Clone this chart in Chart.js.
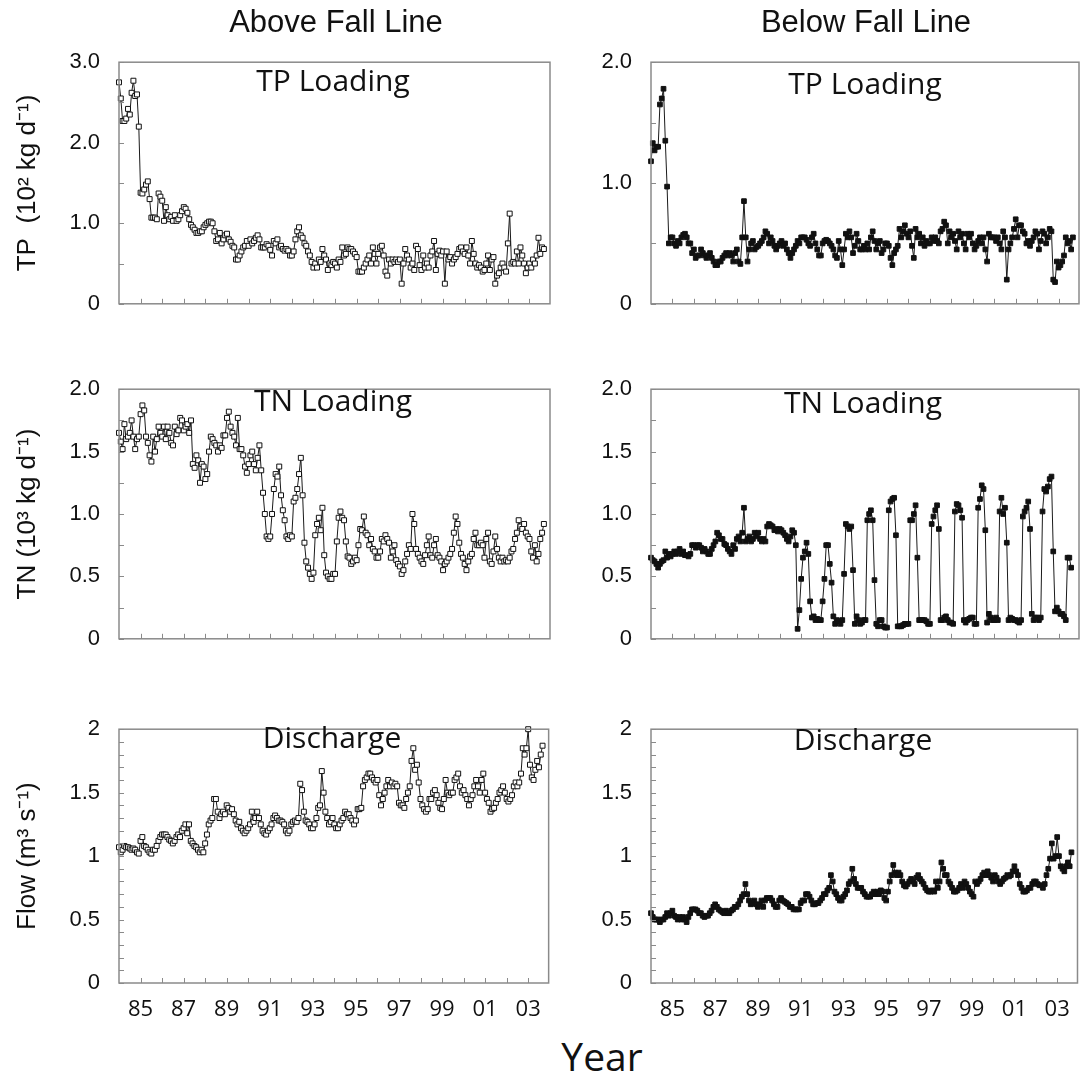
<!DOCTYPE html>
<html>
<head>
<meta charset="utf-8">
<script src="https://cdn.jsdelivr.net/npm/chart.js@4.4.0/dist/chart.umd.min.js"></script>
<style>
body{margin:0;background:#fff;}
#page{position:relative;width:1083px;height:1080px;overflow:hidden;background:#fff;}
#page canvas{position:absolute;}
.lbl{position:absolute;width:400px;text-align:center;color:#111;white-space:pre;}
.col{font-family:"Liberation Sans",Arial,sans-serif;font-size:31px;line-height:34px;}
.pan{font-family:"Open Sans",sans-serif;font-size:30px;line-height:34px;}
.year{font-family:"Open Sans",sans-serif;font-size:39px;line-height:48px;}
</style>
</head>
<body>
<div id="page">
<div class="lbl col" style="left:136px;top:5px">Above Fall Line</div>
<div class="lbl col" style="left:666px;top:5px">Below Fall Line</div>
<div class="lbl pan" style="left:133px;top:63px">TP Loading</div>
<div class="lbl pan" style="left:665px;top:66px">TP Loading</div>
<div class="lbl pan" style="left:133px;top:383px">TN Loading</div>
<div class="lbl pan" style="left:663px;top:385px">TN Loading</div>
<div class="lbl pan" style="left:132px;top:720px">Discharge</div>
<div class="lbl pan" style="left:663px;top:722px">Discharge</div>
<div class="lbl year" style="left:402px;top:1032px">Year</div>
</div>
<script>
// monthly values, Jan 1984 onward
const startYear=1984;
const xMin=1984, xMax=2003.95;
const yearTicks=[1985,1986,1987,1988,1989,1990,1991,1992,1993,1994,1995,1996,1997,1998,1999,2000,2001,2002,2003];
const yearLabels=["85","","87","","89","","91","","93","","95","","97","","99","","01","","03"];

const tpAboveTicks=[0,1,2,3], tpAboveLabels=["0","1.0","2.0","3.0"];
const tpBelowTicks=[0,1,2], tpBelowLabels=["0","1.0","2.0"];
const tnTicks=[0,0.5,1,1.5,2], tnLabels=["0","0.5","1.0","1.5","2.0"];
const flowTicks=[0,0.5,1,1.5,2], flowLabels=["0","0.5","1","1.5","2"];

const tpAbove=[
2.75,2.55,2.27,2.27,2.3,2.42,2.35,2.62,2.77,2.58,2.6,2.2,
1.38,1.37,1.42,1.48,1.52,1.3,1.07,1.07,1.07,1.05,1.37,1.33,
1.28,1.03,1.2,1.1,1.05,1.08,1.03,1.1,1.03,1.05,1.1,1.15,
1.2,1.18,1.13,1.05,0.98,0.95,0.92,0.88,0.88,0.9,0.9,0.95,
0.98,1.0,1.02,1.02,1.0,0.9,0.78,0.8,0.88,0.75,0.8,0.85,
0.87,0.8,0.77,0.72,0.7,0.55,0.55,0.6,0.65,0.7,0.72,0.78,
0.72,0.8,0.75,0.78,0.82,0.85,0.8,0.7,0.7,0.7,0.74,0.72,
0.67,0.6,0.78,0.75,0.8,0.7,0.72,0.68,0.66,0.68,0.66,0.6,
0.6,0.65,0.8,0.9,0.95,0.85,0.82,0.75,0.72,0.65,0.6,0.52,
0.45,0.5,0.45,0.55,0.52,0.68,0.6,0.55,0.42,0.5,0.48,0.52,
0.5,0.45,0.55,0.52,0.7,0.6,0.62,0.7,0.68,0.68,0.65,0.62,
0.58,0.4,0.4,0.4,0.45,0.5,0.55,0.6,0.5,0.7,0.62,0.5,
0.62,0.7,0.72,0.6,0.4,0.35,0.55,0.5,0.55,0.52,0.55,0.52,
0.55,0.25,0.5,0.68,0.6,0.55,0.45,0.5,0.42,0.72,0.68,0.48,
0.42,0.6,0.45,0.5,0.45,0.6,0.65,0.78,0.42,0.62,0.66,0.6,
0.65,0.25,0.65,0.55,0.58,0.5,0.55,0.58,0.62,0.68,0.7,0.65,
0.62,0.7,0.6,0.5,0.78,0.62,0.5,0.45,0.48,0.45,0.4,0.42,
0.5,0.6,0.42,0.55,0.58,0.25,0.35,0.38,0.45,0.5,0.45,0.4,
0.75,1.12,0.5,0.52,0.5,0.65,0.5,0.7,0.6,0.5,0.38,0.45,
0.5,0.45,0.55,0.5,0.6,0.82,0.62,0.7,0.68];

const tpBelow=[
1.18,1.33,1.27,1.3,1.3,1.65,1.7,1.78,1.35,0.97,0.5,0.55,
0.55,0.5,0.48,0.52,0.5,0.55,0.57,0.58,0.55,0.5,0.5,0.42,
0.45,0.38,0.4,0.4,0.45,0.42,0.4,0.38,0.4,0.42,0.38,0.35,
0.32,0.32,0.35,0.35,0.38,0.4,0.42,0.4,0.42,0.4,0.35,0.42,
0.45,0.35,0.33,0.55,0.85,0.55,0.35,0.45,0.5,0.52,0.45,0.47,
0.48,0.5,0.52,0.55,0.6,0.58,0.5,0.55,0.52,0.48,0.45,0.48,
0.5,0.52,0.48,0.5,0.45,0.42,0.38,0.42,0.45,0.48,0.52,0.5,
0.55,0.55,0.55,0.53,0.5,0.48,0.55,0.58,0.5,0.45,0.4,0.4,
0.5,0.52,0.53,0.52,0.5,0.48,0.45,0.4,0.38,0.52,0.45,0.32,
0.45,0.58,0.55,0.6,0.55,0.42,0.48,0.58,0.52,0.45,0.45,0.48,
0.45,0.5,0.45,0.55,0.6,0.52,0.45,0.5,0.52,0.42,0.45,0.5,
0.5,0.48,0.38,0.32,0.42,0.45,0.48,0.62,0.55,0.6,0.65,0.58,
0.55,0.6,0.48,0.38,0.62,0.55,0.58,0.5,0.55,0.48,0.52,0.5,
0.5,0.55,0.52,0.55,0.52,0.5,0.6,0.62,0.68,0.65,0.5,0.6,
0.55,0.58,0.52,0.45,0.6,0.55,0.58,0.5,0.45,0.58,0.55,0.58,
0.5,0.45,0.48,0.52,0.55,0.5,0.55,0.45,0.35,0.58,0.55,0.55,
0.55,0.52,0.55,0.5,0.45,0.6,0.55,0.2,0.45,0.5,0.55,0.62,
0.7,0.55,0.65,0.65,0.6,0.58,0.5,0.52,0.48,0.52,0.55,0.6,
0.58,0.45,0.52,0.6,0.58,0.5,0.55,0.62,0.6,0.2,0.18,0.35,
0.3,0.32,0.35,0.4,0.55,0.5,0.52,0.45,0.55];

const tnAbove=[
1.65,1.58,1.52,1.72,1.6,1.62,1.65,1.75,1.62,1.52,1.6,1.62,
1.8,1.87,1.83,1.62,1.57,1.47,1.42,1.62,1.5,1.6,1.7,1.65,
1.62,1.7,1.6,1.7,1.65,1.57,1.55,1.7,1.64,1.67,1.77,1.75,
1.67,1.7,1.72,1.65,1.75,1.4,1.37,1.47,1.43,1.25,1.4,1.38,
1.28,1.32,1.5,1.62,1.6,1.57,1.55,1.5,1.55,1.53,1.63,1.63,
1.77,1.82,1.7,1.65,1.62,1.55,1.77,1.52,1.52,1.47,1.38,1.33,
1.4,1.47,1.5,1.4,1.35,1.45,1.55,1.35,1.17,1.0,0.82,0.8,
0.82,1.0,1.2,1.32,1.3,1.38,1.15,1.03,0.95,0.82,0.8,0.83,
0.82,1.1,1.13,1.2,1.32,1.45,1.15,0.77,0.62,0.57,0.52,0.48,
0.53,0.83,0.92,0.97,0.87,1.05,0.67,0.53,0.5,0.48,0.48,0.52,
0.52,0.78,0.97,1.02,0.97,0.95,0.78,0.66,0.65,0.6,0.62,0.65,
0.63,0.75,0.88,0.87,0.98,0.85,0.83,0.75,0.8,0.72,0.7,0.65,
0.65,0.7,0.8,0.78,0.83,0.8,0.77,0.65,0.7,0.75,0.63,0.6,
0.58,0.52,0.55,0.62,0.68,0.75,0.72,1.0,0.92,0.72,0.68,0.65,
0.62,0.6,0.67,0.75,0.82,0.67,0.65,0.75,0.8,0.67,0.65,0.62,
0.55,0.6,0.62,0.65,0.68,0.72,0.85,0.98,0.92,0.77,0.68,0.65,
0.6,0.55,0.62,0.66,0.68,0.8,0.85,0.75,0.75,0.77,0.75,0.65,
0.8,0.85,0.62,0.6,0.7,0.82,0.72,0.65,0.62,0.65,0.62,0.63,
0.62,0.65,0.7,0.72,0.8,0.85,0.95,0.9,0.88,0.92,0.85,0.82,
0.8,0.7,0.65,0.75,0.62,0.68,0.8,0.85,0.92];

const tnBelow=[
0.65,0.63,0.62,0.6,0.57,0.6,0.62,0.63,0.7,0.65,0.68,0.66,
0.68,0.7,0.68,0.7,0.72,0.68,0.7,0.67,0.67,0.66,0.68,0.75,
0.75,0.73,0.75,0.75,0.73,0.7,0.72,0.7,0.68,0.68,0.72,0.75,
0.78,0.85,0.83,0.8,0.8,0.76,0.75,0.72,0.7,0.68,0.75,0.72,
0.8,0.82,0.78,0.85,1.05,0.78,0.8,0.82,0.78,0.8,0.85,0.82,
0.85,0.8,0.78,0.8,0.78,0.9,0.92,0.91,0.9,0.87,0.88,0.86,
0.88,0.87,0.85,0.83,0.8,0.78,0.82,0.87,0.85,0.75,0.08,0.23,
0.48,0.65,0.7,0.77,0.68,0.3,0.17,0.18,0.15,0.16,0.15,0.15,
0.3,0.48,0.75,0.75,0.6,0.45,0.18,0.12,0.15,0.14,0.12,0.15,
0.52,0.92,0.9,0.88,0.9,0.55,0.12,0.18,0.15,0.12,0.13,0.15,
0.15,0.95,1.0,1.03,0.95,0.47,0.12,0.1,0.15,0.15,0.1,0.09,
0.09,1.03,1.1,1.12,1.13,0.83,0.1,0.1,0.1,0.11,0.12,0.12,
0.12,0.95,0.95,1.0,1.07,0.65,0.15,0.15,0.15,0.15,0.14,0.12,
0.12,0.92,0.98,1.03,1.07,0.88,0.15,0.15,0.17,0.18,0.15,0.13,
0.13,0.12,1.02,1.08,1.07,1.03,0.97,0.15,0.13,0.15,0.16,0.17,
0.17,0.12,0.12,1.05,1.12,1.23,1.2,0.87,0.13,0.2,0.17,0.15,
0.15,0.17,0.15,1.02,1.13,1.0,1.05,0.77,0.15,0.17,0.16,0.15,
0.15,0.14,0.13,0.15,0.98,1.02,1.05,1.1,0.88,0.2,0.15,0.17,
0.17,0.15,0.17,1.02,1.2,1.18,1.22,1.28,1.3,0.7,0.22,0.25,
0.22,0.2,0.2,0.18,0.15,0.65,0.65,0.57];

const flowAbove=[
1.07,1.03,1.05,1.08,1.07,1.07,1.06,1.05,1.06,1.05,1.03,1.02,
1.12,1.15,1.08,1.07,1.05,1.03,1.02,1.05,1.05,1.08,1.12,1.15,
1.17,1.17,1.17,1.15,1.13,1.12,1.1,1.12,1.15,1.17,1.15,1.2,
1.22,1.25,1.18,1.25,1.12,1.1,1.08,1.07,1.05,1.03,1.05,1.03,
1.1,1.17,1.25,1.28,1.3,1.45,1.45,1.35,1.3,1.33,1.35,1.33,
1.4,1.38,1.35,1.37,1.33,1.28,1.25,1.27,1.22,1.2,1.18,1.2,
1.22,1.25,1.35,1.27,1.3,1.35,1.3,1.25,1.2,1.18,1.17,1.2,
1.22,1.25,1.3,1.32,1.3,1.28,1.28,1.27,1.25,1.2,1.18,1.2,
1.25,1.27,1.28,1.27,1.3,1.57,1.52,1.35,1.28,1.27,1.25,1.22,
1.22,1.25,1.3,1.38,1.4,1.67,1.5,1.35,1.3,1.25,1.27,1.3,
1.25,1.22,1.22,1.25,1.28,1.3,1.35,1.33,1.33,1.3,1.28,1.25,
1.28,1.37,1.37,1.38,1.55,1.6,1.62,1.65,1.65,1.62,1.6,1.58,
1.6,1.48,1.4,1.45,1.5,1.55,1.6,1.55,1.58,1.55,1.57,1.55,
1.42,1.4,1.4,1.38,1.45,1.5,1.55,1.75,1.85,1.68,1.72,1.58,
1.45,1.4,1.37,1.35,1.37,1.45,1.45,1.5,1.52,1.48,1.42,1.38,
1.37,1.45,1.6,1.5,1.48,1.5,1.5,1.6,1.62,1.65,1.55,1.5,
1.52,1.48,1.45,1.4,1.45,1.48,1.55,1.6,1.55,1.5,1.6,1.65,
1.5,1.45,1.42,1.35,1.37,1.38,1.42,1.45,1.5,1.52,1.55,1.5,
1.45,1.43,1.45,1.48,1.55,1.58,1.55,1.58,1.65,1.85,1.8,1.85,
2.0,1.72,1.62,1.6,1.68,1.75,1.7,1.8,1.87];

const flowBelow=[
0.55,0.52,0.5,0.5,0.5,0.48,0.5,0.5,0.52,0.55,0.53,0.55,
0.57,0.53,0.52,0.5,0.52,0.5,0.52,0.5,0.48,0.52,0.55,0.58,
0.58,0.58,0.57,0.55,0.55,0.53,0.52,0.53,0.53,0.55,0.57,0.6,
0.62,0.6,0.58,0.57,0.56,0.55,0.57,0.55,0.55,0.57,0.58,0.6,
0.6,0.62,0.65,0.68,0.7,0.78,0.7,0.65,0.62,0.63,0.65,0.62,
0.6,0.62,0.65,0.6,0.65,0.67,0.67,0.67,0.65,0.62,0.6,0.6,
0.65,0.67,0.65,0.64,0.63,0.62,0.6,0.6,0.58,0.58,0.58,0.58,
0.63,0.65,0.65,0.7,0.7,0.68,0.65,0.62,0.62,0.63,0.63,0.65,
0.67,0.7,0.7,0.73,0.75,0.85,0.8,0.72,0.7,0.67,0.65,0.65,
0.68,0.7,0.73,0.78,0.8,0.9,0.82,0.78,0.75,0.75,0.75,0.72,
0.7,0.68,0.68,0.68,0.7,0.72,0.7,0.72,0.7,0.73,0.72,0.67,
0.65,0.72,0.8,0.85,0.93,0.87,0.85,0.87,0.85,0.8,0.77,0.76,
0.78,0.8,0.82,0.8,0.78,0.83,0.85,0.82,0.8,0.78,0.75,0.73,
0.72,0.72,0.73,0.72,0.8,0.75,0.8,0.95,0.9,0.85,0.85,0.8,
0.78,0.75,0.72,0.72,0.73,0.75,0.78,0.75,0.8,0.78,0.75,0.72,
0.7,0.68,0.8,0.78,0.8,0.82,0.85,0.87,0.85,0.88,0.85,0.83,
0.8,0.85,0.83,0.8,0.78,0.8,0.82,0.83,0.85,0.84,0.85,0.88,
0.92,0.88,0.85,0.78,0.75,0.72,0.72,0.73,0.75,0.75,0.78,0.8,
0.8,0.78,0.77,0.77,0.75,0.78,0.85,0.9,0.98,1.1,0.98,1.0,
1.15,1.0,0.92,0.9,0.88,0.92,0.95,0.92,1.03];

// layout of the six plot boxes
const colLeft=[119,651], colRight=[552,1081];
const rowTop=[50,377,717], rowBottom=[318,653,983];

const panels=[
{data:tpAbove,col:0,row:0,ticks:tpAboveTicks,labels:tpAboveLabels,minor:0.5,axisTitle:"TP  (10² kg d⁻¹)"},
{data:tpBelow,col:1,row:0,ticks:tpBelowTicks,labels:tpBelowLabels,minor:0.5},
{data:tnAbove,col:0,row:1,ticks:tnTicks,labels:tnLabels,minor:0.25,axisTitle:"TN (10³ kg d⁻¹)"},
{data:tnBelow,col:1,row:1,ticks:tnTicks,labels:tnLabels,minor:0.25},
{data:flowAbove,col:0,row:2,ticks:flowTicks,labels:flowLabels,minor:0.1,axisTitle:"Flow (m³ s⁻¹)"},
{data:flowBelow,col:1,row:2,ticks:flowTicks,labels:flowLabels,minor:0.1}
];

const framePlugin={
id:"frame",
afterDraw(chart,args,opts){
const ctx=chart.ctx, a=chart.chartArea, x=chart.scales.x, y=chart.scales.y;
ctx.save();
ctx.strokeStyle="#8a8a8a";
ctx.lineWidth=1;
ctx.beginPath();
yearTicks.forEach(v=>{
const px=Math.round(x.getPixelForValue(v))+0.5;
ctx.moveTo(px,a.bottom);ctx.lineTo(px,a.bottom-5);
});
opts.minor.forEach(v=>{
const py=Math.round(y.getPixelForValue(v))+0.5;
ctx.moveTo(a.left,py);ctx.lineTo(a.left+5,py);
});
ctx.stroke();
ctx.lineWidth=1.5;
ctx.strokeRect(a.left,a.top,a.right-a.left,a.bottom-a.top);
ctx.restore();
}
};

const page=document.getElementById("page");

panels.forEach(p=>{
const W=p.col===0?119:90, T=20, R=3, H=p.row===2?46:18;
const plotW=colRight[p.col]-colLeft[p.col], plotH=rowBottom[p.row]-rowTop[p.row];
const cv=document.createElement("canvas");
cv.width=W+plotW+R;
cv.height=T+plotH+H;
cv.style.left=(colLeft[p.col]-W)+"px";
cv.style.top=(rowTop[p.row]-T)+"px";
page.insertBefore(cv,page.firstChild);

const yMax=p.ticks[p.ticks.length-1];
const minor=[];
for(let v=0;v<=yMax+1e-9;v+=p.minor) minor.push(v);

const open=p.col===0;

new Chart(cv,{
type:"line",
data:{datasets:[{
data:p.data.map((v,i)=>({x:startYear+i/12,y:v})),
borderColor:"#1a1a1a",
borderWidth:1,
tension:0,
pointStyle:"rect",
pointRadius:open?3.5:3.3,
pointBackgroundColor:open?"#fff":"#111",
pointBorderColor:"#111",
pointBorderWidth:1,
clip:6
}]},
options:{
responsive:false,
animation:false,
devicePixelRatio:1,
layout:{padding:{top:T,right:R,left:0,bottom:0}},
plugins:{legend:{display:false},tooltip:{enabled:false},frame:{minor:minor}},
scales:{
x:{
type:"linear",min:xMin,max:xMax,
grid:{display:false,drawTicks:false},
border:{display:false},
afterBuildTicks:s=>{s.ticks=yearTicks.map(v=>({value:v}));},
afterFit:s=>{s.height=H;},
ticks:{display:p.row===2,autoSkip:false,maxRotation:0,padding:14,color:"#111",
font:{family:"Open Sans",size:22},
callback:v=>yearLabels[yearTicks.indexOf(v)]}
},
y:{
min:0,max:yMax,
grid:{display:false,drawTicks:false},
border:{display:false},
afterBuildTicks:s=>{s.ticks=p.ticks.map(v=>({value:v}));},
afterFit:s=>{s.width=W;},
ticks:{padding:19,color:"#111",font:{family:"Liberation Sans",size:22},
callback:v=>p.labels[p.ticks.indexOf(v)]},
title:{display:open,text:p.axisTitle||"",color:"#111",
font:{family:"Liberation Sans",size:26},padding:{top:12,bottom:0}}
}
}
},
plugins:[framePlugin]
});
});
</script>
</body>
</html>
